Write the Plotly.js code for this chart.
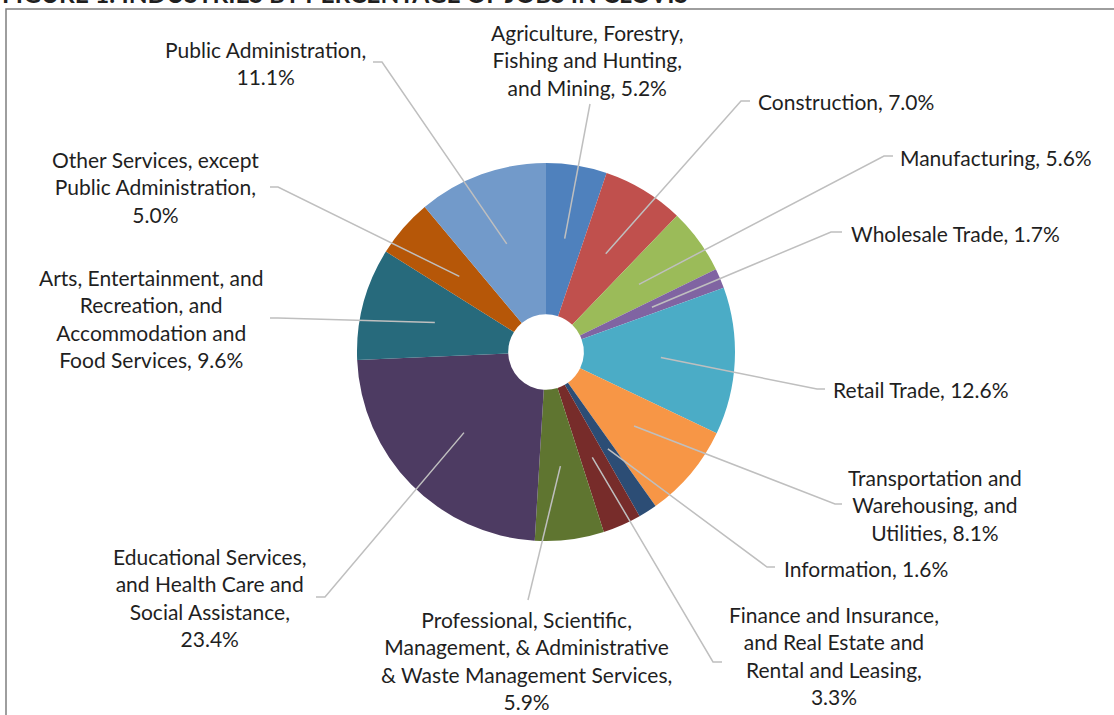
<!DOCTYPE html>
<html>
<head>
<meta charset="utf-8">
<script src="https://cdn.plot.ly/plotly-3.0.1.min.js"></script>
<style>html,body{margin:0;padding:0;background:#fff;}#chart{width:1114px;height:715px;}</style>
</head>
<body>
<div id="chart"></div>
<script>
// ---- data ----
const categories = [
  "Agriculture, Forestry, Fishing and Hunting, and Mining",
  "Construction",
  "Manufacturing",
  "Wholesale Trade",
  "Retail Trade",
  "Transportation and Warehousing, and Utilities",
  "Information",
  "Finance and Insurance, and Real Estate and Rental and Leasing",
  "Professional, Scientific, Management, & Administrative & Waste Management Services",
  "Educational Services, and Health Care and Social Assistance",
  "Arts, Entertainment, and Recreation, and Accommodation and Food Services",
  "Other Services, except Public Administration",
  "Public Administration"
];
const shares = [5.2, 7.0, 5.6, 1.7, 12.6, 8.1, 1.6, 3.3, 5.9, 23.4, 9.6, 5.0, 11.1];
const labelLines = [
  ["Agriculture, Forestry,", "Fishing and Hunting,", "and Mining,"],
  ["Construction,"],
  ["Manufacturing,"],
  ["Wholesale Trade,"],
  ["Retail Trade,"],
  ["Transportation and", "Warehousing, and", "Utilities,"],
  ["Information,"],
  ["Finance and Insurance,", "and Real Estate and", "Rental and Leasing,", ""],
  ["Professional, Scientific,", "Management, & Administrative", "& Waste Management Services,", ""],
  ["Educational Services,", "and Health Care and", "Social Assistance,", ""],
  ["Arts, Entertainment, and", "Recreation, and", "Accommodation and", "Food Services,"],
  ["Other Services, except", "Public Administration,", ""],
  ["Public Administration,", ""]
];
const colors = ["#4F81BD", "#C0504D", "#9BBB59", "#8064A2", "#4BACC6", "#F79646",
                "#2C4D75", "#772C2A", "#5F7530", "#4D3B62", "#276A7C", "#B65708", "#729ACA"];
const titleText = "FIGURE 1: INDUSTRIES BY PERCENTAGE OF JOBS IN CLOVIS";

// ---- layout (pixels) ----
const W = 1114, H = 715;
const CX = 546, CY = 352, R = 189, LEADER_R = 115;
// label placement: [x, y, xanchor, elbowX, elbowY, endX, endY]
const labelPos = [
  [587, 60, "center", null, null, 590, 104],
  [756, 101, "left", 741, 101, 750, 101],
  [898, 157, "left", 884, 156, 893, 156],
  [849, 233, "left", 831, 232, 842, 232],
  [831, 390, "left", 817, 389, 825, 389],
  [935, 505, "center", 835, 504, 842, 504],
  [782, 568, "left", 767, 567, 775, 567],
  [834, 655, "center", 713, 662, 722, 662],
  [526, 660, "center", null, null, 528, 600],
  [210, 597, "center", 325, 597, 316, 597],
  [151, 318, "center", 278, 318, 270, 318],
  [155, 187, "center", 278, 187, 270, 187],
  [265, 63, "center", 382, 62, 373, 62]
];

const px = x => x / W;
const py = y => 1 - y / H;

const total = shares.reduce((a, b) => a + b, 0);
const shapes = [];
const annotations = [];
let cum = 0;
shares.forEach((v, i) => {
  const mid = (cum + v / 2) / total * 2 * Math.PI;
  cum += v;
  const sx = CX + LEADER_R * Math.sin(mid);
  const sy = CY - LEADER_R * Math.cos(mid);
  const p = labelPos[i];
  let path = `M ${px(sx)},${py(sy)}`;
  if (p[3] !== null) path += ` L ${px(p[3])},${py(p[4])}`;
  path += ` L ${px(p[5])},${py(p[6])}`;
  shapes.push({type: "path", xref: "paper", yref: "paper", path: path,
               line: {color: "#BFBFBF", width: 1.5}});
  const lines = labelLines[i].slice();
  const pct = v.toFixed(1) + "%";
  if (lines[lines.length - 1] === "") lines[lines.length - 1] = pct;
  else lines[lines.length - 1] = lines[lines.length - 1] + " " + pct;
  annotations.push({
    xref: "paper", yref: "paper", x: px(p[0]), y: py(p[1]),
    xanchor: p[2], yanchor: "middle", align: "center", showarrow: false,
    text: lines.join("<br>"),
    font: {family: "Lato, 'Noto Sans', sans-serif", size: 21, color: "#1F1F1F"}
  });
});

annotations.push({
  xref: "paper", yref: "paper", x: 0, y: py(-6), xanchor: "left", yanchor: "middle",
  showarrow: false, text: "<b>" + titleText + "</b>",
  font: {family: "Lato, 'Noto Sans', sans-serif", size: 24.5, color: "#1F1F1F"}
});

shapes.push({type: "rect", xref: "paper", yref: "paper",
  x0: px(6), y0: py(9), x1: px(W + 10), y1: py(H + 10),
  line: {color: "#7F7F7F", width: 1.5}, layer: "below"});

const trace = {
  type: "pie",
  labels: categories,
  values: shares,
  hole: 0.2,
  sort: false,
  direction: "clockwise",
  rotation: 0,
  textinfo: "none",
  hoverinfo: "label+percent",
  marker: {colors: colors, line: {width: 0}},
  domain: {x: [px(CX - R), px(CX + R)], y: [py(CY + R), py(CY - R)]},
  showlegend: false
};

Plotly.newPlot("chart", [trace], {
  width: W, height: H,
  margin: {l: 0, r: 0, t: 0, b: 0},
  paper_bgcolor: "#FFFFFF",
  showlegend: false,
  shapes: shapes,
  annotations: annotations
}, {displayModeBar: false, staticPlot: true});
</script>
</body>
</html>
